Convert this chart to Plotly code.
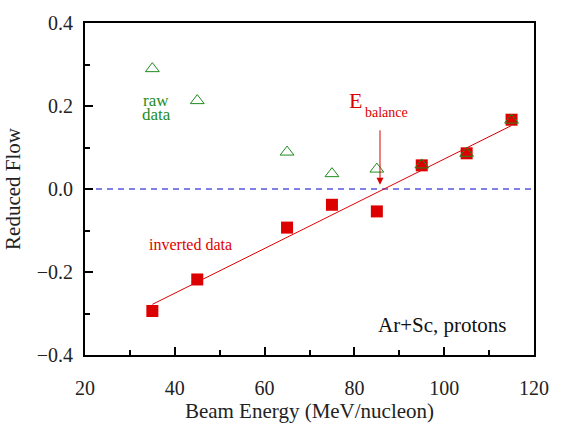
import plotly.graph_objects as go

energy = [35, 45, 65, 75, 85, 95, 105, 115]
raw_flow = [0.290, 0.213, 0.089, 0.037, 0.048, 0.058, 0.086, 0.166]
inverted_flow = [-0.294, -0.218, -0.093, -0.038, -0.054, 0.057, 0.086, 0.167]
fit_x = [35, 115]
fit_y = [-0.278, 0.153]
x_range = [20, 120]
y_range = [-0.4, 0.4]

RED = "#dd0000"
GREEN = "#1e8c1e"
FONT = "Liberation Serif"

fig = go.Figure()
fig.add_trace(go.Scatter(x=x_range, y=[0, 0], mode="lines",
                         line=dict(color="#0000cc", width=1, dash="6px,5px"),
                         showlegend=False, hoverinfo="skip"))
fig.add_trace(go.Scatter(x=fit_x, y=fit_y, mode="lines",
                         line=dict(color=RED, width=1), showlegend=False))
fig.add_trace(go.Scatter(x=energy, y=inverted_flow, mode="markers",
                         marker=dict(symbol="square", size=12, color=RED, line=dict(width=0)),
                         showlegend=False))
fig.add_trace(go.Scatter(x=energy, y=raw_flow, mode="markers",
                         marker=dict(symbol="triangle-up-open", size=12, color=GREEN, line=dict(width=1, color=GREEN)),
                         showlegend=False))

ann = [
    dict(x=35.9, y=0.214, text="raw", font=dict(color=GREEN, size=17, family=FONT)),
    dict(x=35.9, y=0.179, text="data", font=dict(color=GREEN, size=17, family=FONT)),
    dict(x=43.6, y=-0.133, text="inverted data", font=dict(color=RED, size=16, family=FONT)),
    dict(x=80.2, y=0.214, text="E", font=dict(color=RED, size=22, family=FONT)),
    dict(x=81.9, y=0.184, text="balance", xanchor="left", font=dict(color=RED, size=14, family=FONT)),
    dict(x=114.4, y=-0.328, text="Ar+Sc, protons", xanchor="right", font=dict(color="#111", size=21, family=FONT)),
]
for a in ann:
    a.setdefault("xanchor", "center")
    fig.add_annotation(showarrow=False, xref="x", yref="y", yanchor="middle", **a)

fig.add_annotation(x=85.7, y=0.010, ax=85.7, ay=0.145, xref="x", yref="y", axref="x", ayref="y",
                   showarrow=True, arrowhead=2, arrowsize=1.4, arrowwidth=1, arrowcolor=RED, text="")

axis_common = dict(showline=True, linecolor="black", linewidth=2, mirror=True,
                   ticks="inside", ticklen=8, tickwidth=2, tickcolor="black",
                   showgrid=False, zeroline=False,
                   tickfont=dict(family=FONT, size=20, color="#222"))
fig.update_xaxes(range=x_range, tick0=20, dtick=20,
                 minor=dict(dtick=10, ticks="inside", ticklen=5, tickwidth=2, tickcolor="black", showgrid=False),
                 ticklabelstandoff=14,
                 title=dict(text="Beam Energy (MeV/nucleon)", font=dict(family=FONT, size=21, color="#222"), standoff=2),
                 **axis_common)
fig.update_yaxes(range=y_range, tick0=-0.4, dtick=0.2, tickformat=".1f",
                 minor=dict(dtick=0.1, ticks="inside", ticklen=5, tickwidth=2, tickcolor="black", showgrid=False),
                 ticklabelstandoff=6,
                 title=dict(text="Reduced Flow", font=dict(family=FONT, size=21, color="#222"), standoff=10),
                 **axis_common)
fig.update_layout(width=561, height=428, margin=dict(l=82, r=20, t=20, b=70),
                  plot_bgcolor="white", paper_bgcolor="white", showlegend=False,
                  separators=".,")
fig.write_html("out.html", config={"displayModeBar": False},
               post_script="document.body.style.margin='0px';")
